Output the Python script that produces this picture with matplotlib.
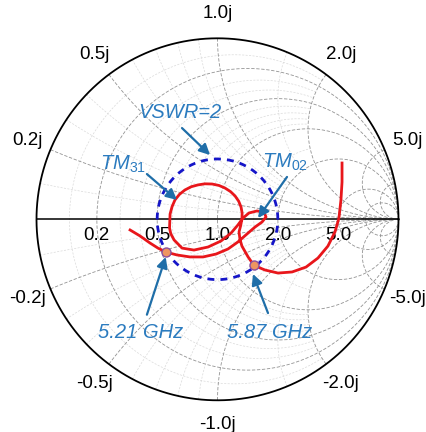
import numpy as np
import matplotlib
matplotlib.use("Agg")
import matplotlib.pyplot as plt

plt.rcParams["font.family"] = ["Liberation Sans", "DejaVu Sans"]
plt.rcParams["mathtext.fontset"] = "custom"
plt.rcParams["mathtext.it"] = "Liberation Sans:italic"
plt.rcParams["mathtext.rm"] = "Liberation Sans"

gamma_re = [-0.483, -0.428, -0.373, -0.329, -0.282, -0.224, -0.152, -0.080, -0.008, 0.058,
            0.113, 0.163, 0.207, 0.246, 0.268, 0.257, 0.218, 0.174, 0.141, 0.113,
            0.075, 0.019, -0.052, -0.130, -0.196, -0.240, -0.258, -0.265, -0.262, -0.251,
            -0.235, -0.210, -0.180, -0.145, -0.108, -0.070, -0.030, 0.008, 0.041, 0.072,
            0.097, 0.117, 0.130, 0.136, 0.135, 0.128, 0.119, 0.124, 0.135, 0.169, 0.202,
            0.262, 0.334, 0.412, 0.489, 0.555, 0.610, 0.649, 0.671, 0.682, 0.688, 0.688]
gamma_im = [-0.059, -0.092, -0.131, -0.159, -0.182, -0.197, -0.208, -0.208, -0.192, -0.164,
            -0.125, -0.081, -0.043, -0.015, 0.013, 0.040, 0.046, 0.035, 0.007, -0.031,
            -0.076, -0.120, -0.153, -0.170, -0.159, -0.114, -0.080, -0.048, 0.029, 0.070,
            0.107, 0.138, 0.162, 0.180, 0.190, 0.196, 0.195, 0.187, 0.173, 0.153,
            0.129, 0.100, 0.068, 0.035, 0.002, -0.035, -0.070, -0.110, -0.148, -0.208, -0.255,
            -0.280, -0.297, -0.291, -0.264, -0.214, -0.148, -0.070, 0.007, 0.107, 0.206, 0.311]

marker_labels = ["5.21 GHz", "5.87 GHz"]
marker_re = [-0.282, 0.202]
marker_im = [-0.182, -0.255]

vswr = 2.0
r_major = [0.2, 0.5, 1.0, 2.0, 5.0, 10.0]
x_major = [0.2, 0.5, 1.0, 2.0, 5.0, 10.0]
r_minor = [0.1, 0.3, 0.4, 0.6, 0.7, 0.8, 0.9, 1.5]
x_minor = [0.1, 0.3, 0.4, 0.6, 0.7, 0.8, 0.9, 1.5]
r_labels = ["0.2", "0.5", "1.0", "2.0", "5.0"]
x_labels = ["0.2j", "0.5j", "1.0j", "2.0j", "5.0j"]


def z2g(z):
    return (z - 1) / (z + 1)


def r_line(r, xmax=None):
    if xmax is None:
        t = np.linspace(0, 2 * np.pi, 600)
        c, rad = r / (1 + r), 1 / (1 + r)
        return c + rad * np.cos(t), rad * np.sin(t)
    x = np.tan(np.linspace(-np.arctan(xmax), np.arctan(xmax), 400))
    g = z2g(r + 1j * x)
    return g.real, g.imag


def x_line(x, rmax=None):
    top = np.pi / 2 - 1e-4 if rmax is None else np.arctan(rmax)
    r = np.tan(np.linspace(0, top, 400))
    g = z2g(r + 1j * x)
    return g.real, g.imag


fig = plt.figure(figsize=(4.27, 4.32), dpi=100)
ax = fig.add_axes([0, 0, 1, 1])
ax.set_xlim(-217.5 / 181, (427 - 217.5) / 181)
ax.set_ylim((219.3 - 432) / 181, 219.3 / 181)
ax.axis("off")

# grid
minor_kw = dict(color="#dadada", lw=0.5, ls=(0, (3, 2)), zorder=1)
major_kw = dict(color="#939393", lw=0.6, ls=(0, (4, 2)), zorder=2)
for r in r_minor:
    ax.plot(*r_line(r, 2.0), **minor_kw)
for x in x_minor:
    for s in (1, -1):
        ax.plot(*x_line(s * x, 2.0), **minor_kw)
for r in r_major:
    ax.plot(*r_line(r), **major_kw)
for x in x_major:
    for s in (1, -1):
        ax.plot(*x_line(s * x), **major_kw)

t = np.linspace(0, 2 * np.pi, 800)
ax.plot(np.cos(t), np.sin(t), color="black", lw=1.3, zorder=3)
ax.plot([-1, 1], [0, 0], color="black", lw=1.1, zorder=3)

# labels
for lab in r_labels:
    r = float(lab)
    ax.text((r - 1) / (r + 1), -0.087, lab, ha="center", va="center", fontsize=13.5, zorder=4)
for lab in x_labels:
    x = float(lab[:-1])
    for s, pre in ((1, ""), (-1, "-")):
        g = z2g(1j * s * x) * 1.135
        ax.text(g.real, g.imag, pre + lab, ha="center", va="center", fontsize=13.5)

# VSWR circle
rho = (vswr - 1) / (vswr + 1)
ax.plot(rho * np.cos(t), rho * np.sin(t), color="#1515c8", lw=2.0, ls=(0, (2.5, 2.2)), zorder=5)

# measured curve
ax.plot(gamma_re, gamma_im, color="#e8161b", lw=2.0, zorder=6, solid_joinstyle="round")
ax.plot(marker_re, marker_im, "o", ms=6.5, mfc="#ee9560", mec="#8a4f9e", mew=1.0, zorder=7)

tc, ac = "#2b7bbf", "#1f6ea8"
arrow = dict(arrowstyle="-|>", color=ac, lw=1.6, mutation_scale=16, shrinkA=0, shrinkB=0)
notes = [("VSWR=2", (-0.207, 0.592), (-0.196, 0.504), (-0.041, 0.355)),
         (r"$\mathit{TM}_{\mathit{31}}$", (-0.522, 0.306), (-0.390, 0.250), (-0.224, 0.107)),
         (r"$\mathit{TM}_{\mathit{02}}$", (0.373, 0.317), (0.384, 0.234), (0.224, 0.007)),
         (marker_labels[0], (-0.423, -0.623), (-0.390, -0.527), (-0.286, -0.208)),
         (marker_labels[1], (0.290, -0.623), (0.279, -0.518), (0.196, -0.302))]
for txt, pos, a0, a1 in notes:
    ax.text(pos[0], pos[1], txt, ha="center", va="center", fontsize=14.5,
            style="italic", color=tc, zorder=8)
    ax.annotate("", xy=a1, xytext=a0, arrowprops=arrow, zorder=8)

fig.savefig("out.png", dpi=100)
